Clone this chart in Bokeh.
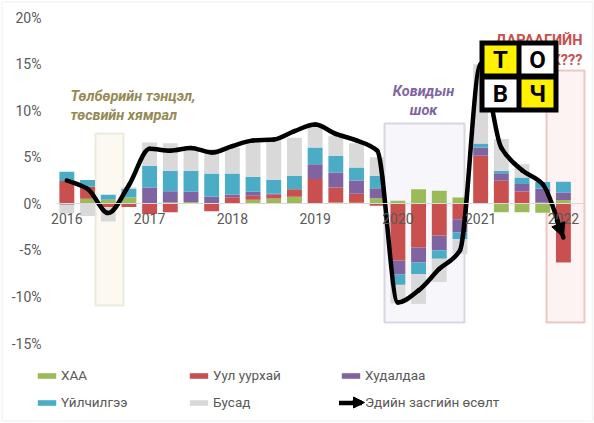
import numpy as np
from bokeh.plotting import figure
from bokeh.models import (Range1d, FixedTicker, BoxAnnotation, Label, Legend, LegendItem,
                          ColumnDataSource, Arrow, NormalHead)
from bokeh.embed import file_html
from bokeh.resources import INLINE

# ---------------- data ----------------
quarters = ["2016Q1", "2016Q2", "2016Q3", "2016Q4",
            "2017Q1", "2017Q2", "2017Q3", "2017Q4",
            "2018Q1", "2018Q2", "2018Q3", "2018Q4",
            "2019Q1", "2019Q2", "2019Q3", "2019Q4",
            "2020Q1", "2020Q2", "2020Q3", "2020Q4",
            "2021Q1", "2021Q2", "2021Q3", "2021Q4",
            "2022Q1"]
year_ticks = [1, 5, 9, 13, 17, 21, 25]
year_labels = ["2016", "2017", "2018", "2019", "2020", "2021", "2022"]
y_ticks = [-15, -10, -5, 0, 5, 10, 15, 20]
y_tick_labels = ["-15%", "-10%", "-5%", "0%", "5%", "10%", "15%", "20%"]

agri = [0.0, 0.55, 0.43, 0.68, 0.0, 0.15, 0.2, 0.0, 0.0, 0.43, 0.57, 0.75,
        0.0, 0.15, 0.1, 0.6, 0.32, 1.57, 1.4, 0.68, 0.0, -0.9, -0.9, -0.95, 0.4]
mining = [2.45, 1.3, -0.35, -0.35, -1.1, -0.9, 0.0, -0.8, 0.7, 0.43, 0.4, 0.82,
          2.65, 1.6, 0.97, -0.2, -6.1, -4.7, -3.4, -1.65, 5.15, 2.47, 1.32, 0.15, -6.3]
trade = [-0.1, 0.0, 0.0, 0.0, 1.75, 1.2, 1.1, 0.75, 0.3, 0.43, 0.1, 0.0,
         1.6, 1.6, 1.43, 1.07, -1.5, -1.6, -1.6, -1.43, 0.9, 0.8, 0.8, 1.5, 0.82]
services = [1.0, 0.7, 0.54, 0.9, 2.33, 2.2, 2.24, 2.5, 2.25, 1.6, 1.5, 1.43,
            1.8, 1.8, 1.4, 1.33, -1.1, -1.25, -0.9, -0.7, 0.43, 0.28, 0.7, 0.68, 1.14]
other = [-0.95, -1.3, -1.55, 0.2, 2.5, 2.95, 2.56, 2.6, 2.8, 3.7, 4.35, 4.1,
         2.35, 2.15, 2.6, 2.0, -2.0, -3.2, -2.5, -1.6, 8.5, 3.4, 1.43, 0.0, 0.0]
growth = [2.5, 1.6, -1.0, 2.0, 5.9, 5.7, 6.0, 5.5, 6.2, 6.8, 6.9, 7.8,
          8.5, 7.5, 6.8, 5.7, -10.6, -9.3, -7.0, -5.0, 15.0, 6.0, 3.6, 2.1, -3.6]

series_names = ["ХАА", "Уул уурхай", "Худалдаа", "Үйлчилгээ", "Бусад"]
series_values = [agri, mining, trade, services, other]
series_colors = ["#9BBB59", "#C9504E", "#8064A2", "#4BACC6", "#D9D9D9"]
growth_name = "Эдийн засгийн өсөлт"

FONT = "Roboto"
TICK_COLOR = "#595959"

# ---------------- figure (frame covers the whole canvas) ----------------
W, H = 594, 423
PXU = 20.69          # pixels per quarter
PYU = 326.0 / 35.0   # pixels per percentage point
X_AT_PAGE0 = 1 - 66.35 / PXU
Y_AT_PAGE0 = 20 + 17 / PYU


def px2x(px):
    return X_AT_PAGE0 + px / PXU


def px2y(py):
    return Y_AT_PAGE0 - py / PYU


p = figure(width=W, height=H, title=None,
           x_range=Range1d(px2x(0), px2x(W)), y_range=Range1d(px2y(H), px2y(0)),
           min_border_left=0, min_border_right=0, min_border_top=0, min_border_bottom=0,
           toolbar_location=None, output_backend="svg")
p.outline_line_color = None
p.xgrid.visible = False
p.ygrid.visible = False
p.background_fill_color = "white"
p.border_fill_color = "white"

# outer chart border
p.add_layout(BoxAnnotation(left=px2x(1.5), right=px2x(592), top=px2y(1.5), bottom=px2y(420.5),
                           fill_alpha=0, line_color="#D9D9D9", line_width=1.5,
                           level="underlay"))

# highlight boxes (underlay)
p.add_layout(BoxAnnotation(left=px2x(95), right=px2x(123), top=px2y(133), bottom=px2y(305),
                           fill_color="#FBF9F1", fill_alpha=1.0, line_color="#C8C19F",
                           line_width=2, level="underlay"))
p.add_layout(BoxAnnotation(left=px2x(384), right=px2x(464), top=px2y(123), bottom=px2y(322),
                           fill_color="#F7F7FB", fill_alpha=1.0, line_color="#8B7DA8",
                           line_width=2, level="underlay"))
p.add_layout(BoxAnnotation(left=px2x(546), right=px2x(584), top=px2y(70), bottom=px2y(322),
                           fill_color="#FDF3F3", fill_alpha=1.0, line_color="#C9504E",
                           line_width=2, level="underlay"))

# stacked bars (positives up from 0, negatives down from 0)
x = np.arange(1, len(quarters) + 1, dtype=float)
pos = np.zeros(len(x))
neg = np.zeros(len(x))
bar_renderers = []
for name, vals, color in zip(series_names, series_values, series_colors):
    v = np.array(vals, dtype=float)
    bottom = np.where(v >= 0, pos, neg)
    top = bottom + v
    pos = np.where(v >= 0, pos + v, pos)
    neg = np.where(v < 0, neg + v, neg)
    src = ColumnDataSource(dict(x=x, bottom=bottom, top=top, q=quarters))
    r = p.vbar(x="x", bottom="bottom", top="top", width=0.72, source=src,
               fill_color=color, line_color=None)
    bar_renderers.append(r)

# smoothed growth line: shape-preserving cubic Bezier through each data point
gy = np.array(growth, dtype=float)
d = np.diff(gy)
m = np.zeros(len(gy))
for k in range(1, len(gy) - 1):
    if d[k - 1] * d[k] > 0:
        m[k] = 2.0 / (1.0 / d[k - 1] + 1.0 / d[k])
m[0] = d[0]
m[-1] = d[-1]
bsrc = ColumnDataSource(dict(
    x0=x[:-1], y0=gy[:-1], x1=x[1:], y1=gy[1:],
    cx0=x[:-1] + 1 / 3, cy0=gy[:-1] + m[:-1] / 3,
    cx1=x[1:] - 1 / 3, cy1=gy[1:] - m[1:] / 3))
line_r = p.bezier(x0="x0", y0="y0", x1="x1", y1="y1", cx0="cx0", cy0="cy0",
                  cx1="cx1", cy1="cy1", source=bsrc, line_color="black",
                  line_width=4.5, line_cap="round")
p.add_layout(Arrow(end=NormalHead(size=14, fill_color="black", line_color="black"),
                   x_start=float(x[-1] - 1 / 3), y_start=float(gy[-1] - m[-1] / 3),
                   x_end=float(x[-1]), y_end=float(gy[-1]),
                   line_color="black", line_width=4.5))

# axes (drawn inside the frame at fixed locations)
p.yaxis.fixed_location = px2x(50)
p.yaxis.ticker = FixedTicker(ticks=y_ticks)
p.yaxis.major_label_overrides = {t: l for t, l in zip(y_ticks, y_tick_labels)}
p.yaxis.axis_line_color = None
p.yaxis.major_tick_line_color = None
p.yaxis.minor_tick_line_color = None
p.yaxis.major_tick_out = 0
p.yaxis.major_tick_in = 0
p.yaxis.minor_tick_out = 0
p.yaxis.major_label_standoff = 9
p.yaxis.major_label_text_font = FONT
p.yaxis.major_label_text_font_size = "14px"
p.yaxis.major_label_text_color = TICK_COLOR

p.xaxis.fixed_location = 0
p.xaxis.bounds = (px2x(56), px2x(584))
p.xaxis.ticker = FixedTicker(ticks=year_ticks)
p.xaxis.major_label_overrides = {t: l for t, l in zip(year_ticks, year_labels)}
p.xaxis.axis_line_color = "#D9D9D9"
p.xaxis.major_tick_line_color = None
p.xaxis.minor_tick_line_color = None
p.xaxis.major_tick_out = 0
p.xaxis.major_tick_in = 0
p.xaxis.minor_tick_out = 0
p.xaxis.major_label_standoff = 9
p.xaxis.major_label_text_font = FONT
p.xaxis.major_label_text_font_size = "14px"
p.xaxis.major_label_text_color = TICK_COLOR


# annotation texts
def add_label(text, px, py, color, align="left", style="bold italic", size="14.5px"):
    p.add_layout(Label(x=px2x(px), y=px2y(py), text=text, text_color=color,
                       text_font=FONT, text_font_style=style, text_font_size=size,
                       text_align=align, text_baseline="middle"))


add_label("Төлбөрийн тэнцэл,", 70, 96, "#948A54")
add_label("төсвийн хямрал", 70, 115, "#948A54")
add_label("Ковидын", 423, 91, "#8064A2", align="center")
add_label("шок", 423, 110, "#8064A2", align="center")
add_label("ДАРААГИЙН", 582, 40, "#C9504E", align="right", style="bold")
add_label("ШОК???", 582, 60, "#C9504E", align="right", style="bold")

# legend
items = [LegendItem(label=n, renderers=[r]) for n, r in zip(series_names, bar_renderers)]
items.append(LegendItem(label=growth_name, renderers=[line_r]))
legend = Legend(items=items, orientation="horizontal", ncols=3,
                location=(35, 12.5), glyph_width=23, glyph_height=7,
                label_standoff=3, label_width=116, label_height=17, spacing=10,
                padding=0, margin=0, border_line_color=None, background_fill_alpha=0,
                label_text_font=FONT, label_text_font_size="13.5px",
                label_text_color=TICK_COLOR)
p.add_layout(legend, "center")
p.add_layout(Arrow(end=NormalHead(size=11, fill_color="black", line_color="black"),
                   x_start=px2x(352), y_start=px2y(402), x_end=px2x(364), y_end=px2y(402),
                   line_color="black", line_width=4.5))


# logo "ТОВЧ"
def box(l, r, t, b, color):
    p.add_layout(BoxAnnotation(left=px2x(l), right=px2x(r), top=px2y(t), bottom=px2y(b),
                               fill_color=color, fill_alpha=1.0, line_color=None,
                               level="overlay"))


box(479, 558, 40, 112, "black")
box(484, 516, 45, 73, "#FFF100")
box(521, 553, 45, 73, "white")
box(484, 516, 79, 107, "white")
box(521, 553, 79, 107, "#FFF100")
for ch, cx, cy in [("Т", 500, 59), ("О", 537, 59), ("В", 500, 93), ("Ч", 537, 93)]:
    p.add_layout(Label(x=px2x(cx), y=px2y(cy), text=ch, text_color="black", text_font=FONT,
                       text_font_style="bold", text_font_size="24px", text_align="center",
                       text_baseline="middle", level="overlay"))

open("out.html", "w").write(file_html(p, INLINE))
